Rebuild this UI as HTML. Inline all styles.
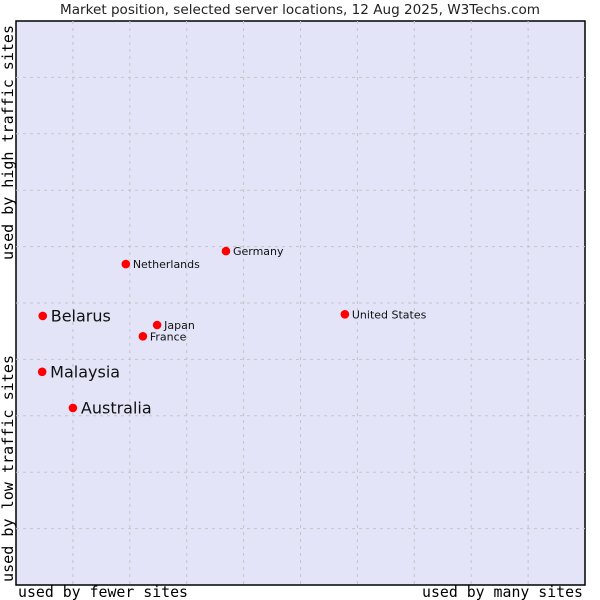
<!DOCTYPE html>
<html><head><meta charset="utf-8"><style>
body{margin:0;background:#fff;width:600px;height:600px;overflow:hidden}
svg{display:block}
</style></head><body>
<svg id="chart" width="600" height="600" xmlns="http://www.w3.org/2000/svg">
<text x="60" y="14" textLength="480" lengthAdjust="spacingAndGlyphs" font-family="DejaVu Sans, sans-serif" font-size="13" fill="#222">Market position, selected server locations, 12 Aug 2025, W3Techs.com</text>
<rect x="16" y="21" width="569" height="564" fill="#e3e4f8" stroke="#000" stroke-width="1.5"/>
<g id="grid"></g>
<g id="points"></g>
<text x="18" y="597" textLength="170" lengthAdjust="spacingAndGlyphs" font-family="DejaVu Sans Mono, monospace" font-size="15" fill="#000">used by fewer sites</text>
<text x="422" y="597" textLength="161" lengthAdjust="spacingAndGlyphs" font-family="DejaVu Sans Mono, monospace" font-size="15" fill="#000">used by many sites</text>
<text transform="translate(13,260) rotate(-90)" textLength="235" lengthAdjust="spacingAndGlyphs" font-family="DejaVu Sans Mono, monospace" font-size="15" fill="#000">used by high traffic sites</text>
<text transform="translate(13,582) rotate(-90)" textLength="227" lengthAdjust="spacingAndGlyphs" font-family="DejaVu Sans Mono, monospace" font-size="15" fill="#000">used by low traffic sites</text>
</svg>
<script>
const names = ["Belarus","Malaysia","Australia","Netherlands","Germany","United States","Japan","France"];
const xValues = [4.7,4.6,10.0,19.3,36.9,57.8,24.8,22.3];
const yValues = [47.7,37.8,31.4,56.9,59.2,48.0,46.1,44.1];
const bigLabel = [true,true,true,false,false,false,false,false];
const gridSteps = [1,2,3,4,5,6,7,8,9];
const X0=16,X1=585,Y0=585,Y1=21;
function sx(v){return X0+(X1-X0)*v/100;}
function sy(v){return Y0-(Y0-Y1)*v/100;}
const NS="http://www.w3.org/2000/svg";
const grid=document.getElementById('grid');
gridSteps.forEach(s=>{
  const v=document.createElementNS(NS,'line');
  v.setAttribute('x1',sx(s*10));v.setAttribute('x2',sx(s*10));v.setAttribute('y1',Y1);v.setAttribute('y2',Y0);
  v.setAttribute('stroke','#c4c4c8');v.setAttribute('stroke-dasharray','3,4');
  
  
  grid.appendChild(v);
  const h=document.createElementNS(NS,'line');
  h.setAttribute('y1',sy(s*10));h.setAttribute('y2',sy(s*10));h.setAttribute('x1',X0);h.setAttribute('x2',X1);
  h.setAttribute('stroke','#c4c4c8');h.setAttribute('stroke-dasharray','3,4');
  
  
  grid.appendChild(h);
});
const pts=document.getElementById('points');
names.forEach((n,i)=>{
  const x=sx(xValues[i]),y=sy(yValues[i]);
  const d=document.createElementNS(NS,'circle');
  d.setAttribute('cx',x);d.setAttribute('cy',y);d.setAttribute('r',4.3);
  d.setAttribute('fill','#ff0000');
  
  
  pts.appendChild(d);
  const t=document.createElementNS(NS,'text');
  const big=bigLabel[i];
  t.setAttribute('x',x+(big?8:7));t.setAttribute('y',y+(big?5.5:4));
  t.setAttribute('font-family','DejaVu Sans, sans-serif');
  t.setAttribute('font-size',big?16:11);
  t.setAttribute('fill','#111');
  t.textContent=n;
  
  
  pts.appendChild(t);
});
</script>
</body></html>
